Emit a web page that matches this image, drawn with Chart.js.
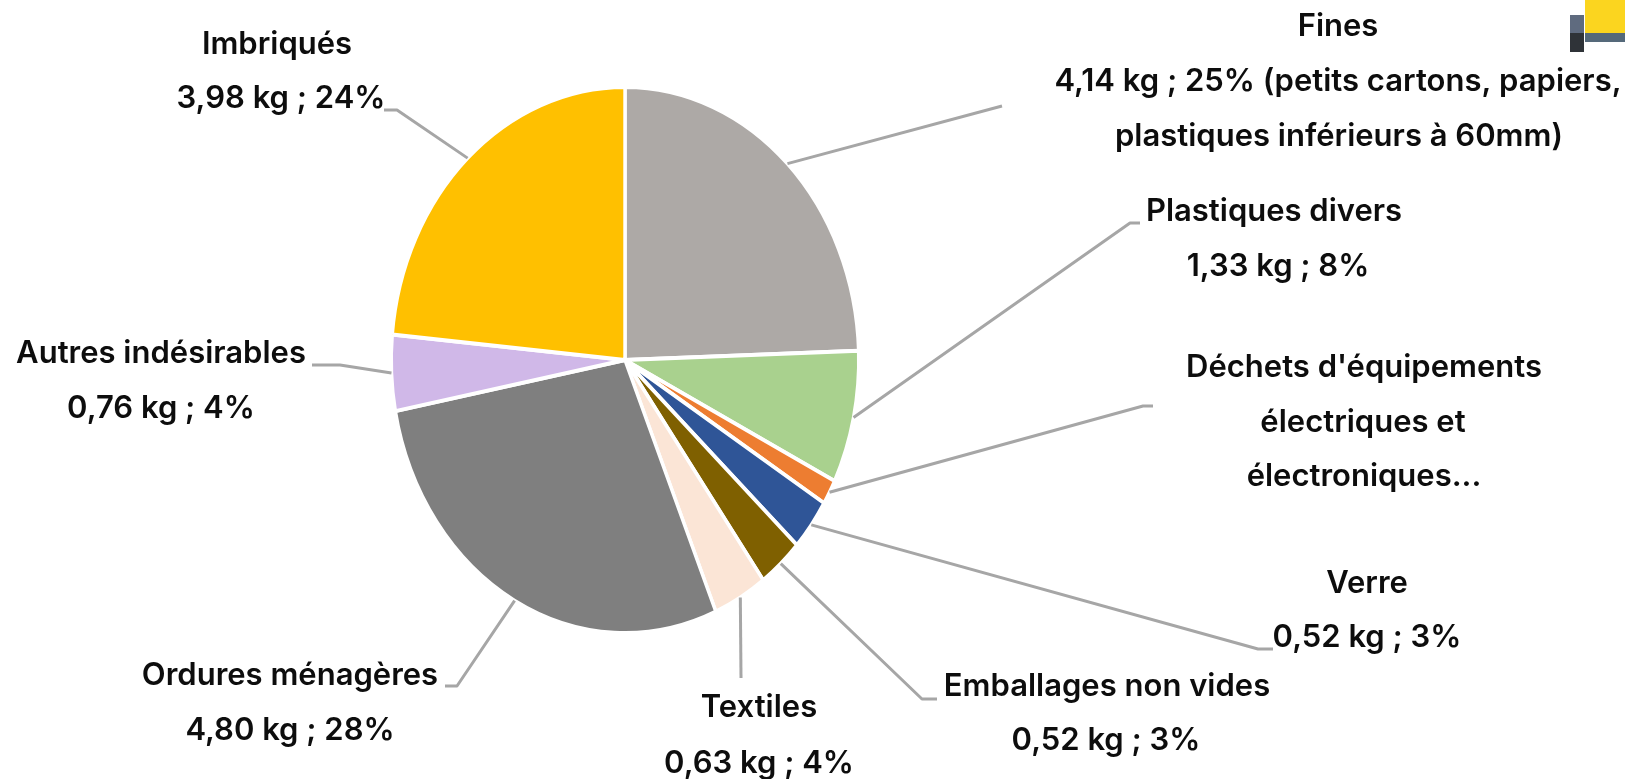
<!DOCTYPE html>
<html>
<head>
    <title>Composition des déchets</title>
    <style>
    body {
      margin: 0;
      padding: 0;
      background: #fff;
    }
    canvas {
      display: block;
    }
    </style>
    <script src="https://cdn.jsdelivr.net/npm/chart.js"></script>
</head>
<body>
<canvas id="pieChart" width="1625" height="779"></canvas>
<script>
// values in kg (DEEE has no readable value, estimated from the slice)
const categories = ["Fines", "Plastiques divers", "Déchets d'équipements électriques et électroniques", "Verre", "Emballages non vides", "Textiles", "Ordures ménagères", "Autres indésirables", "Imbriqués"];
const kgValues = [4.14, 1.33, 0.25, 0.52, 0.52, 0.63, 4.80, 0.76, 3.98];
const sliceColors = ["#ADA9A6", "#A9D18E", "#ED7D31", "#2F5597", "#7F6000", "#FBE5D6", "#7F7F7F", "#D0B8E8", "#FFC000"];
const labelLines = [
    ["Fines", "4,14 kg ; 25% (petits cartons, papiers,", "plastiques inférieurs à 60mm)"],
    ["Plastiques divers", "1,33 kg ; 8%"],
    ["Déchets d'équipements", "électriques et", "électroniques..."],
    ["Verre", "0,52 kg ; 3%"],
    ["Emballages non vides", "0,52 kg ; 3%"],
    ["Textiles", "0,63 kg ; 4%"],
    ["Ordures ménagères", "4,80 kg ; 28%"],
    ["Autres indésirables", "0,76 kg ; 4%"],
    ["Imbriqués", "3,98 kg ; 24%"]
];

// layout of the callouts: x center and y of each text line, then the leader line after the slice edge
const labelX = [
    [1338, 1338, 1339], [1274, 1278], [1364, 1363, 1364], [1367, 1367],
    [1107, 1106], [759, 759], [290, 290], [161, 161], [277, 281]
];
const labelY = [
    [27, 82, 137], [212, 267], [368, 423, 477], [584, 638],
    [687, 741], [708, 764], [676, 731], [354, 409], [45, 99]
];
const leaderPaths = [
    [[1002, 106]],
    [[1130, 223], [1140, 223]],
    [[1143, 406], [1153, 406]],
    [[1258, 649], [1273, 649]],
    [[922, 699], [937, 699]],
    [[741, 678]],
    [[457, 686], [445, 686]],
    [[340, 365], [312, 365]],
    [[397, 110], [384, 110]]
];

const stretchX = 235.5 / 275;   // the pie is an ellipse in the original

const ellipsePlugin = {
    id: 'ellipse',
    beforeDatasetsDraw(chart) {
        const arc = chart.getDatasetMeta(0).data[0];
        const ctx = chart.ctx;
        ctx.save();
        ctx.translate(arc.x, arc.y);
        ctx.scale(stretchX, 1);
        ctx.translate(-arc.x, -arc.y);
    },
    afterDatasetsDraw(chart) {
        chart.ctx.restore();
    }
};

const calloutPlugin = {
    id: 'callouts',
    afterDraw(chart) {
        const ctx = chart.ctx;
        ctx.save();

        // leader lines start on the slice edge at its middle angle
        ctx.strokeStyle = '#A6A6A6';
        ctx.lineWidth = 3;
        ctx.lineJoin = 'round';
        chart.getDatasetMeta(0).data.forEach((arc, i) => {
            const mid = (arc.startAngle + arc.endAngle) / 2;
            ctx.beginPath();
            ctx.moveTo(arc.x + Math.cos(mid) * arc.outerRadius * stretchX, arc.y + Math.sin(mid) * arc.outerRadius);
            leaderPaths[i].forEach(p => ctx.lineTo(p[0], p[1]));
            ctx.stroke();
        });

        ctx.fillStyle = '#0D0D0D';
        ctx.font = '600 31px Inter';
        ctx.textAlign = 'center';
        ctx.textBaseline = 'middle';
        labelLines.forEach((lines, i) => {
            lines.forEach((line, j) => ctx.fillText(line, labelX[i][j], labelY[i][j]));
        });

        // bit of a logo cut off in the top right corner
        ctx.fillStyle = '#FBD51F';
        ctx.fillRect(1585, 0, 40, 33);
        ctx.fillStyle = '#55697A';
        ctx.fillRect(1585, 33, 40, 9);
        ctx.fillStyle = '#5F6B7F';
        ctx.fillRect(1570, 15, 14, 18);
        ctx.fillStyle = '#2F3338';
        ctx.fillRect(1570, 33, 14, 19);
        ctx.restore();
    }
};

new Chart(document.getElementById('pieChart').getContext('2d'), {
    type: 'pie',
    data: {
        labels: categories,
        datasets: [{
            data: kgValues,
            backgroundColor: sliceColors,
            borderColor: '#fff',
            borderWidth: 4
        }]
    },
    options: {
        responsive: false,
        animation: false,
        layout: {
            padding: {left: 350, right: 725, top: 85, bottom: 144}
        },
        plugins: {
            legend: {display: false},
            tooltip: {enabled: false}
        }
    },
    plugins: [ellipsePlugin, calloutPlugin]
});
</script>
</body>
</html>
